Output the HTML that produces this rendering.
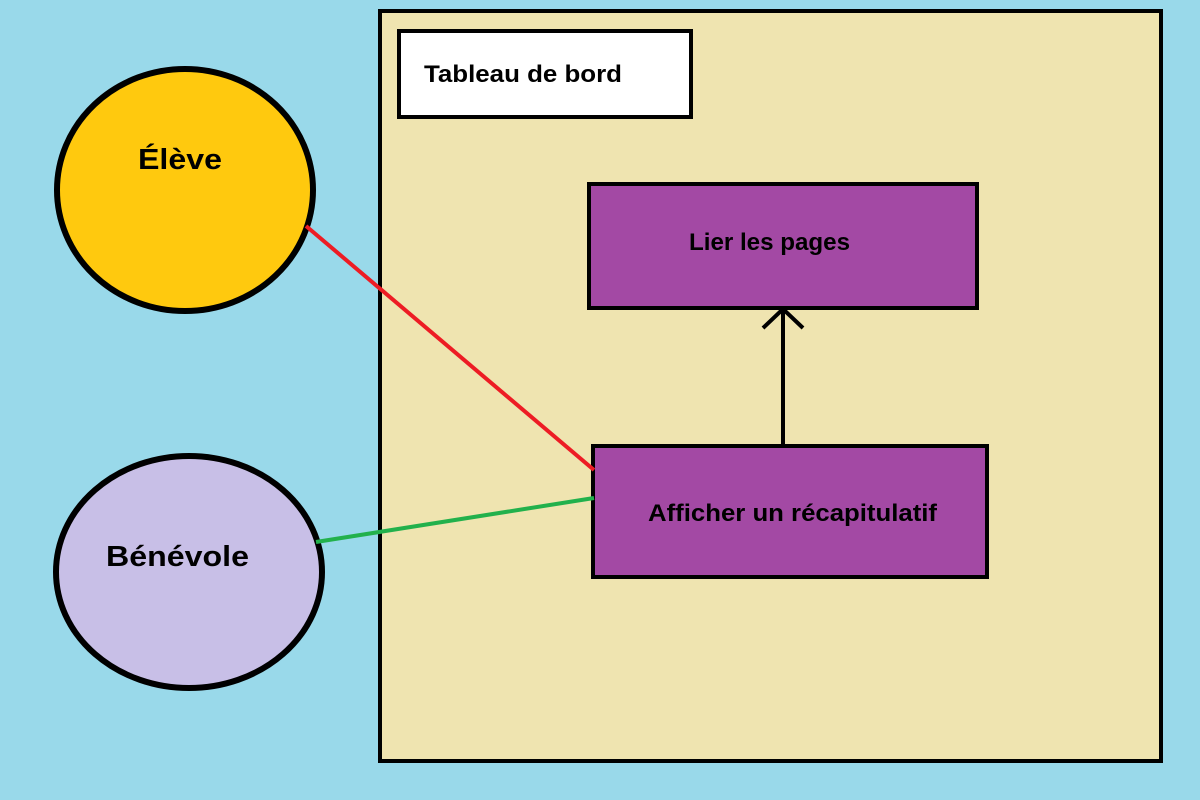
<!DOCTYPE html>
<html><head><meta charset="utf-8"><style>
body{margin:0;width:1200px;height:800px;overflow:hidden;background:#99d9ea}
</style></head><body>
<svg width="1200" height="800" xmlns="http://www.w3.org/2000/svg" style="position:absolute;left:0;top:0">
<rect x="0" y="0" width="1200" height="800" fill="#99d9ea"/>
<rect x="380" y="11" width="781" height="750" fill="#efe4b0" stroke="#000" stroke-width="4"/>
<rect x="399" y="31" width="292" height="86" fill="#fff" stroke="#000" stroke-width="4"/>
<text x="424" y="82" textLength="198" lengthAdjust="spacingAndGlyphs" font-family="Liberation Sans, sans-serif" font-weight="bold" font-size="24" fill="#000">Tableau de bord</text>
<ellipse cx="185" cy="190" rx="128" ry="121" fill="#ffc90e" stroke="#000" stroke-width="6"/>
<text x="138" y="169" textLength="84" lengthAdjust="spacingAndGlyphs" font-family="Liberation Sans, sans-serif" font-weight="bold" font-size="29" fill="#000">Élève</text>
<ellipse cx="189" cy="572" rx="133" ry="116" fill="#c8bfe7" stroke="#000" stroke-width="6"/>
<text x="106" y="566" textLength="143" lengthAdjust="spacingAndGlyphs" font-family="Liberation Sans, sans-serif" font-weight="bold" font-size="29" fill="#000">Bénévole</text>
<rect x="589" y="184" width="388" height="124" fill="#a349a4" stroke="#000" stroke-width="4"/>
<text x="689" y="250" textLength="161" lengthAdjust="spacingAndGlyphs" font-family="Liberation Sans, sans-serif" font-weight="bold" font-size="24" fill="#000">Lier les pages</text>
<rect x="593" y="446" width="394" height="131" fill="#a349a4" stroke="#000" stroke-width="4"/>
<text x="648" y="521" textLength="289" lengthAdjust="spacingAndGlyphs" font-family="Liberation Sans, sans-serif" font-weight="bold" font-size="24" fill="#000">Afficher un récapitulatif</text>
<line x1="783" y1="444" x2="783" y2="310" stroke="#000" stroke-width="4"/>
<polyline points="763,328 783,309 803,328" fill="none" stroke="#000" stroke-width="4"/>
<line x1="306" y1="226" x2="594" y2="470" stroke="#ed1c24" stroke-width="4"/>
<line x1="316" y1="542" x2="594" y2="498" stroke="#22b14c" stroke-width="4"/>
</svg>
</body></html>
